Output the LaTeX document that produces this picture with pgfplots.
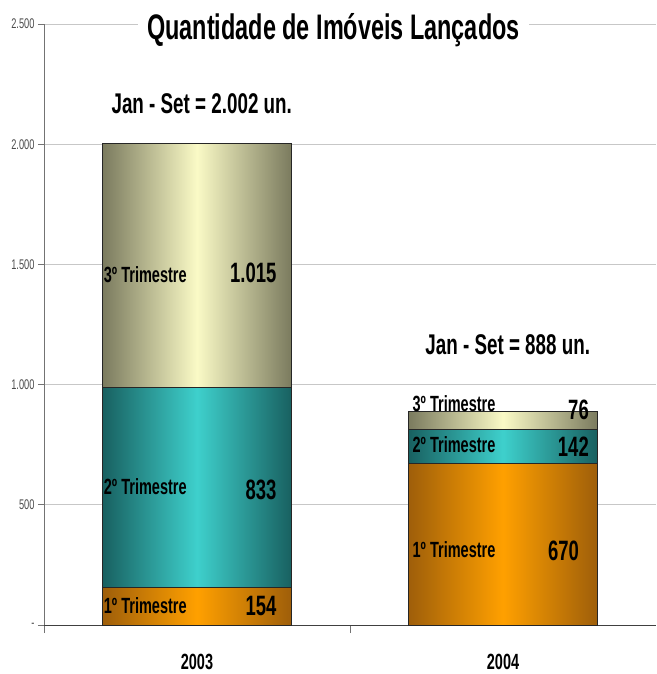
\documentclass[border=0pt]{standalone}
\usepackage{fontspec}
\setmainfont[FakeStretch=0.66]{Liberation Sans}
\usepackage{pgfplots}
\pgfplotsset{compat=1.18}
\definecolor{tanD}{RGB}{122,122,94}
\definecolor{tanL}{RGB}{250,250,198}
\definecolor{tealD}{RGB}{24,96,96}
\definecolor{tealL}{RGB}{62,208,204}
\definecolor{orD}{RGB}{158,94,10}
\definecolor{orL}{RGB}{255,160,0}
\newcommand{\fs}[1]{\fontsize{#1bp}{#1bp}\selectfont}
\pgfplotsset{
  base/.style={scale only axis, width=612bp, height=601bp,
    xmin=-0.5, xmax=1.5, ymin=0, ymax=2500, clip=false},
  seg/.style={draw=black!85, line width=1bp, left color=#1D, right color=#1D, middle color=#1L},
}
\begin{document}
\begin{tikzpicture}
% axis with frame, grid and the 2003 column
\begin{axis}[
  base, name=ax,
  ybar stacked, bar width=0.62,
  axis x line*=bottom, axis y line*=left,
  x axis line style={draw=black!75, line width=1bp, -},
  y axis line style={draw=black!55, line width=0.8bp, -},
  major tick length=6bp, minor tick length=8bp,
  xtick={0,1}, xticklabels={2003,2004},
  x tick label style={font=\bfseries\fs{22}, yshift=-20bp},
  major x tick style={draw=none},
  minor xtick={-0.5,0.5},
  minor x tick style={draw=black!55, line width=0.8bp},
  xtick align=outside,
  ytick={0,500,1000,1500,2000,2500},
  yticklabels={-,500,1.000,1.500,2.000,2.500},
  ytick align=outside,
  y tick style={draw=black!55, line width=0.8bp},
  y tick label style={font=\fs{14}, text=black!70},
  /pgf/number format/assume math mode=true,
  ymajorgrids, grid style={draw=black!22, line width=0.8bp},
]
\addplot[seg=or]   coordinates {(0,154)};
\addplot[seg=teal] coordinates {(0,833)};
\addplot[seg=tan]  coordinates {(0,1015)};
\end{axis}
% the 2004 column
\begin{axis}[base, hide axis, ybar stacked, bar width=0.62]
\addplot[seg=or]   coordinates {(1,670)};
\addplot[seg=teal] coordinates {(1,142)};
\addplot[seg=tan]  coordinates {(1,76)};
\end{axis}
% texts
\begin{axis}[base, hide axis]
\node[fill=white, inner xsep=9bp, inner ysep=2bp, font=\bfseries\fs{35.5}] at (axis cs:0.446,2475) {Quantidade de Imóveis Lançados};
\node[font=\bfseries\fs{28.5}] at (axis cs:0.0155,2167) {Jan - Set = 2.002 un.};
\node[font=\bfseries\fs{28.5}] at (axis cs:1.0155,1165) {Jan - Set = 888 un.};

\node[anchor=west, inner sep=0pt, font=\bfseries\fs{22}] at (axis cs:-0.305,1456) {3º Trimestre};
\node[anchor=east, inner sep=0pt, font=\bfseries\fs{28}] at (axis cs:0.26,1466) {1.015};
\node[anchor=west, inner sep=0pt, font=\bfseries\fs{22}] at (axis cs:-0.305,574) {2º Trimestre};
\node[anchor=east, inner sep=0pt, font=\bfseries\fs{28}] at (axis cs:0.26,562) {833};
\node[anchor=west, inner sep=0pt, font=\bfseries\fs{22}] at (axis cs:-0.305,79) {1º Trimestre};
\node[anchor=east, inner sep=0pt, font=\bfseries\fs{28}] at (axis cs:0.26,79) {154};

\node[anchor=west, inner sep=0pt, font=\bfseries\fs{22}] at (axis cs:0.704,919) {3º Trimestre};
\node[anchor=east, inner sep=0pt, font=\bfseries\fs{28}] at (axis cs:1.281,894) {76};
\node[anchor=west, inner sep=0pt, font=\bfseries\fs{22}] at (axis cs:0.704,749) {2º Trimestre};
\node[anchor=east, inner sep=0pt, font=\bfseries\fs{28}] at (axis cs:1.281,740) {142};
\node[anchor=west, inner sep=0pt, font=\bfseries\fs{22}] at (axis cs:0.704,312) {1º Trimestre};
\node[anchor=east, inner sep=0pt, font=\bfseries\fs{28}] at (axis cs:1.249,308) {670};
\end{axis}
\pgfresetboundingbox
\useasboundingbox (ax.south west) ++(-44bp,-49bp) rectangle ++(657bp,674bp);
\end{tikzpicture}
\end{document}
